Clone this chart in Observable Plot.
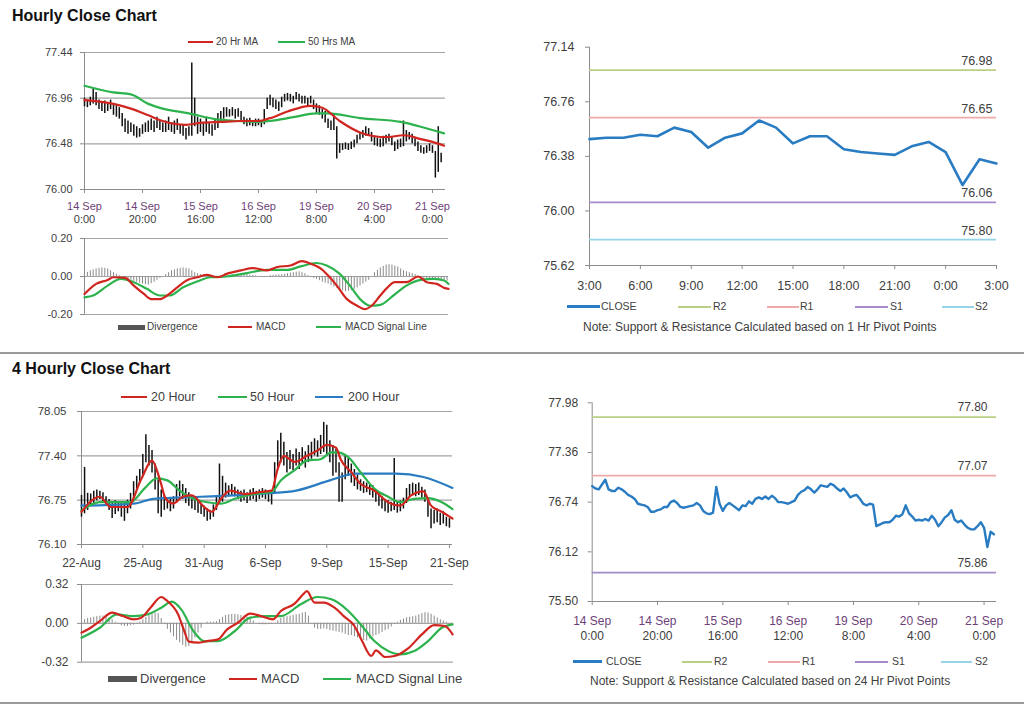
<!DOCTYPE html>
<html><head><meta charset="utf-8">
<script src="https://cdn.jsdelivr.net/npm/d3@7"></script>
<script src="https://cdn.jsdelivr.net/npm/@observablehq/plot@0.6"></script>
<style>
body{margin:0;background:#fff;font-family:"Liberation Sans",Arial,Helvetica,sans-serif;}
#root{position:relative;width:1024px;height:706px;overflow:hidden;background:#fff;}
.lg{position:absolute;white-space:nowrap;color:#404040;}
.title{position:absolute;font-weight:bold;font-size:16px;color:#111;white-space:nowrap;}
</style></head><body><div id="root"></div>
<script>
// ================= DATA =================
// --- Hourly bar chart (top-left): high / low of each hourly bar ---
const h1Lo = [76.87,76.86,76.88,76.90,76.88,76.84,76.82,76.80,76.82,76.84,76.78,76.76,76.74,76.66,76.60,76.58,76.60,76.56,76.54,76.55,
76.58,76.60,76.60,76.62,76.60,76.64,76.62,76.60,76.60,76.62,76.60,76.58,76.62,76.58,76.56,76.52,76.56,76.56,76.66,76.58,
76.60,76.56,76.60,76.58,76.56,76.62,76.64,76.70,76.74,76.76,76.76,76.77,76.74,76.76,76.72,76.68,76.66,76.67,76.66,76.66,
76.67,76.65,76.68,76.84,76.88,76.86,76.84,76.82,76.86,76.92,76.93,76.92,76.90,76.94,76.92,76.90,76.90,76.88,76.90,76.84,
76.80,76.78,76.74,76.70,76.64,76.62,76.62,76.32,76.38,76.41,76.42,76.41,76.42,76.44,76.48,76.52,76.54,76.56,76.56,76.50,
76.46,76.45,76.44,76.45,76.48,76.50,76.46,76.40,76.42,76.44,76.45,76.50,76.52,76.48,76.45,76.40,76.38,76.37,76.38,76.40,
76.38,76.12,76.18,76.28];
const h1Hi = [76.96,76.94,76.97,77.06,77.02,76.94,76.92,76.93,76.90,76.94,76.90,76.88,76.86,76.80,76.74,76.72,76.70,76.68,76.66,76.64,
76.68,76.70,76.72,76.74,76.72,76.76,76.72,76.70,76.72,76.76,76.70,76.72,76.74,76.68,76.68,76.64,76.66,77.33,76.96,76.76,
76.74,76.70,76.76,76.70,76.68,76.74,76.80,76.82,76.86,76.86,76.84,76.86,76.84,76.85,76.82,76.76,76.74,76.75,76.72,76.74,
76.74,76.72,76.84,76.96,76.99,76.96,76.94,76.92,76.97,77.00,77.01,77.00,76.98,77.02,77.00,76.98,76.98,76.96,76.98,76.94,
76.90,76.88,76.84,76.82,76.74,76.72,76.80,76.66,76.48,76.48,76.49,76.48,76.50,76.52,76.57,76.60,76.62,76.66,76.64,76.60,
76.56,76.54,76.53,76.56,76.57,76.58,76.55,76.50,76.52,76.53,76.72,76.62,76.60,76.58,76.54,76.50,76.46,76.44,76.46,76.48,
76.46,76.40,76.66,76.38];
const h1TickIdx = [0,20,40,60,80,100,120];
const h1Dates = ["14 Sep","14 Sep","15 Sep","16 Sep","19 Sep","20 Sep","21 Sep"];
const h1Times = ["0:00","20:00","16:00","12:00","8:00","4:00","0:00"];
const h1YTicks = [76.00,76.48,76.96,77.44];
const h1Ma20X = [0,10,16,22,27,35,40,47,54,60,64,70,78,82,88,95,100,104,110,116,120,124];
const h1Ma20  = [76.94,76.90,76.85,76.78,76.72,76.68,76.70,76.71,76.72,76.72,76.75,76.82,76.88,76.86,76.72,76.60,76.56,76.55,76.57,76.53,76.50,76.46];
const h1Ma50X = [0,10,16,22,27,36,45,53,60,64,72,80,84,95,109,116,124];
const h1Ma50  = [77.09,77.02,77.00,76.90,76.85,76.80,76.74,76.72,76.71,76.72,76.76,76.80,76.80,76.75,76.71,76.66,76.59];

// --- Hourly MACD (top-left lower) ---
const h1MacdTicks = [-0.20,0.00,0.20];
const h1MacdX = [0,4,8,10,14,17,20.5,23,26,28.5,32,35.5,39,42,46,49,54,58,63,66.5,71,75,78,81.5,84,87,90.5,94,96.5,99,102,104.5,107,111,115,118,121.5,124,125.5];
const h1Macd  = [-0.092,-0.039,-0.018,-0.004,-0.007,-0.048,-0.092,-0.119,-0.119,-0.10,-0.057,-0.018,-0.004,0.009,-0.004,0.014,0.032,0.044,0.032,0.05,0.058,0.081,0.067,0.041,0.005,-0.048,-0.119,-0.154,-0.172,-0.154,-0.10,-0.057,-0.03,-0.03,0.0,-0.03,-0.039,-0.06,-0.065];
const h1SigX = [0,3,8,12.5,17,21.5,26,29.5,34,39,43.5,49,56,63,70,74.5,80,83.5,88,91.5,95,98.5,102,106.5,111,116,120.5,124,125.5];
const h1Sig  = [-0.11,-0.10,-0.048,-0.012,-0.03,-0.065,-0.10,-0.10,-0.057,-0.025,-0.004,0.0,0.018,0.035,0.035,0.053,0.071,0.058,0.014,-0.048,-0.119,-0.154,-0.149,-0.10,-0.048,-0.018,-0.012,-0.021,-0.039];
const h1Div = [0.015,0.022,0.03,0.035,0.04,0.043,0.045,0.043,0.04,0.03,0.02,0.012,0.005,-0.003,-0.01,-0.015,-0.02,-0.025,-0.03,-0.035,
-0.04,-0.043,-0.045,-0.038,-0.03,-0.02,-0.01,0.0,0.01,0.02,0.03,0.035,0.04,0.043,0.045,0.043,0.04,0.03,0.02,0.015,
0.01,0.01,0.01,0.008,0.005,0.0,-0.005,-0.003,0.0,0.003,0.005,0.006,0.008,0.009,0.01,0.01,0.01,0.008,0.005,0.003,
0.0,-0.003,-0.005,0.0,0.005,0.006,0.008,0.009,0.01,0.012,0.015,0.018,0.02,0.023,0.025,0.02,0.015,0.005,-0.005,-0.01,
-0.015,-0.022,-0.03,-0.035,-0.04,-0.048,-0.055,-0.062,-0.07,-0.075,-0.08,-0.078,-0.075,-0.068,-0.06,-0.05,-0.04,-0.03,-0.02,0.0,
0.02,0.033,0.045,0.053,0.06,0.062,0.06,0.055,0.05,0.04,0.03,0.025,0.02,0.015,0.01,0.0,-0.01,-0.013,-0.015,-0.018,
-0.02,-0.02,-0.02,-0.022,-0.025,-0.025];

// --- 1 Hr pivot chart (top-right) ---
const pv1HourTicks = [0,3,6,9,12,15,18,21,24];
const pv1HourLabels = ["3:00","6:00","9:00","12:00","15:00","18:00","21:00","0:00","3:00"];
const pv1YTicks = [75.62,76.00,76.38,76.76,77.14];
const pv1Close = [76.50,76.51,76.51,76.53,76.52,76.58,76.55,76.44,76.51,76.54,76.63,76.58,76.47,76.52,76.52,76.43,76.41,76.40,76.39,76.45,76.48,76.41,76.18,76.36,76.33];
const pv1Levels = [76.98,76.65,76.06,75.80];
const pvNames = ["R2","R1","S1","S2"];
const pvColors = ["#b9cf84","#eeaaaa","#a58bc8","#95d4e8"];

// --- 4 hourly bar chart (bottom-left) ---
const h4Lo = [76.50,76.55,76.60,76.66,76.70,76.74,76.76,76.72,76.68,76.60,76.48,76.54,76.58,76.50,76.44,76.55,76.62,76.78,76.90,77.00,
77.10,77.30,77.25,77.15,76.90,76.55,76.50,76.60,76.62,76.58,76.62,76.72,76.80,76.76,76.70,76.66,76.62,76.60,76.56,76.54,
76.50,76.44,76.46,76.50,76.60,76.70,76.72,76.78,76.80,76.82,76.80,76.76,76.72,76.74,76.70,76.74,76.76,76.72,76.76,76.78,
76.76,76.72,76.68,76.85,77.20,77.30,77.25,77.15,77.20,77.18,77.25,77.20,77.28,77.22,77.30,77.35,77.40,77.38,77.42,77.45,
77.40,77.30,77.10,77.15,76.72,76.72,77.05,77.10,77.00,76.95,76.90,76.88,76.85,76.86,76.82,76.78,76.72,76.66,76.62,76.58,
76.56,76.58,76.60,76.56,76.58,76.62,76.70,76.80,76.82,76.80,76.82,76.78,76.72,76.50,76.33,76.40,76.42,76.38,76.40,76.36,
76.34];
const h4Hi = [76.82,77.23,76.85,76.84,76.88,76.90,76.88,76.86,76.80,76.76,76.70,76.74,76.72,76.70,76.72,76.75,76.85,77.02,77.10,77.20,
77.42,77.71,77.55,77.48,77.28,77.05,76.90,76.82,76.78,76.76,76.80,76.98,77.03,76.98,76.92,76.86,76.82,76.78,76.74,76.70,
76.66,76.62,76.60,76.68,76.80,77.28,77.10,77.00,76.96,76.98,76.94,76.90,76.88,76.90,76.86,76.90,76.92,76.88,76.90,76.92,
76.90,76.88,76.86,77.30,77.62,77.73,77.60,77.45,77.48,77.42,77.50,77.45,77.52,77.46,77.55,77.60,77.65,77.62,77.70,77.89,
77.85,77.62,77.55,77.50,77.30,77.15,77.40,77.36,77.28,77.20,77.12,77.05,77.02,77.00,76.98,76.96,76.90,76.86,76.80,76.76,
76.74,76.72,77.36,76.72,76.74,76.78,76.92,76.98,77.00,76.98,77.00,76.94,76.90,76.78,76.62,76.60,76.62,76.56,76.58,76.50,
76.48];
const h4TickIdx = [0,20,40,60,80,100,120];
const h4TickLabels = ["22-Aug","25-Aug","31-Aug","6-Sep","9-Sep","15-Sep","21-Sep"];
const h4YTicks = [76.10,76.75,77.40,78.05];
const h4Ma20X = [0,6,9.5,15,19.5,23,25.5,27.5,30,33,36,40,42.5,45.5,48.5,53,58.5,62,64,66,69.5,73.5,77,80,83,84.5,88,91,95.5,100,104,107.5,111.5,114,117.5,121];
const h4Ma20  = [76.58,76.80,76.65,76.65,77.06,77.33,77.06,76.77,76.70,76.80,76.82,76.65,76.58,76.77,76.89,76.84,76.87,76.89,77.21,77.40,77.31,77.40,77.48,77.56,77.52,77.35,77.16,76.99,76.89,76.72,76.67,76.82,76.88,76.67,76.58,76.48];
const h4Ma50X = [0,6,12,16,20.5,24.5,28,32,36.5,41,45.5,50,56.5,62,65,69.5,73.5,78,81.5,83.5,87,91,95.5,100,104,108.5,113,117.5,121];
const h4Ma50  = [76.60,76.72,76.72,76.72,76.92,77.07,77.04,76.89,76.77,76.72,76.70,76.77,76.84,76.87,77.04,77.19,77.33,77.35,77.45,77.45,77.38,77.16,76.92,76.80,76.72,76.77,76.78,76.72,76.62];
const h4Ma200X = [0,17,23.5,39,49.5,60.5,70,81,89.5,102.5,111.5,121];
const h4Ma200  = [76.67,76.70,76.77,76.80,76.82,76.85,76.89,77.04,77.14,77.14,77.09,76.93];

// --- 4 hourly MACD (bottom-left lower) ---
const h4MacdTicks = [-0.32,0.00,0.32];
const h4MacdX = [0,3,6,10,13.5,17,19.5,22.5,26,28,31.5,33.5,35,38,41,44.5,47.5,51,55,58.5,62.5,65,69.5,72.5,73.5,76,79,82.5,85.5,89,91.5,94.5,96,99,102,106.5,111,115,118.5,121];
const h4Macd  = [-0.077,-0.036,0.019,0.088,0.060,0.033,0.047,0.129,0.217,0.184,0.074,-0.063,-0.151,-0.159,-0.146,-0.132,-0.049,0.005,0.080,0.060,0.033,0.102,0.162,0.245,0.266,0.170,0.170,0.129,0.060,-0.022,-0.146,-0.269,-0.222,-0.277,-0.269,-0.206,-0.091,-0.014,-0.022,-0.091];
const h4SigX = [0,6,11.5,17,21.5,26,29.5,32.5,36.5,40,44.5,50,55,60.5,65,71.5,77,81.5,87,91,95.5,100,104,108.5,113,117.5,121];
const h4Sig  = [-0.118,-0.036,0.074,0.060,0.074,0.129,0.179,0.115,-0.063,-0.146,-0.146,-0.063,0.047,0.060,0.060,0.157,0.217,0.198,0.102,-0.008,-0.146,-0.228,-0.255,-0.228,-0.146,-0.036,-0.008];
const h4Div = [0.02,0.03,0.04,0.045,0.05,0.055,0.06,0.06,0.055,0.045,0.03,0.01,-0.01,-0.02,-0.025,-0.025,-0.02,-0.015,-0.005,0.01,
0.03,0.05,0.065,0.075,0.085,0.08,0.04,-0.01,-0.05,-0.08,-0.11,-0.14,-0.16,-0.18,-0.195,-0.19,-0.16,-0.12,-0.08,-0.04,
0.0,0.01,0.01,0.01,0.015,0.03,0.05,0.065,0.07,0.074,0.074,0.07,0.065,0.06,0.05,0.04,0.02,0.0,-0.008,-0.012,
-0.012,-0.01,-0.005,0.0,0.02,0.04,0.05,0.055,0.06,0.065,0.07,0.075,0.085,0.09,0.06,0.0,-0.04,-0.05,-0.05,-0.045,
-0.05,-0.06,-0.065,-0.07,-0.075,-0.08,-0.09,-0.1,-0.1,-0.11,-0.12,-0.13,-0.14,-0.146,-0.13,-0.11,-0.1,-0.09,-0.075,-0.06,
-0.05,-0.03,-0.01,0.01,0.025,0.035,0.045,0.05,0.055,0.06,0.07,0.08,0.088,0.085,0.075,0.06,0.045,0.03,0.02,0.01,
0.0,-0.005];

// --- 24 Hr pivot chart (bottom-right): hourly closes ---
const pv24Close = [76.94,76.91,76.90,76.96,77.02,76.90,76.88,76.88,76.92,76.90,76.87,76.83,76.81,76.78,76.72,76.71,76.70,76.68,76.62,76.62,
76.64,76.65,76.68,76.68,76.74,76.76,76.73,76.68,76.67,76.68,76.69,76.70,76.73,76.70,76.63,76.60,76.59,76.61,76.93,76.72,
76.63,76.70,76.73,76.70,76.67,76.64,76.70,76.69,76.75,76.72,76.78,76.80,76.78,76.81,76.78,76.82,76.79,76.74,76.74,76.73,
76.72,76.74,76.76,76.83,76.87,76.89,76.93,76.90,76.86,76.90,76.95,76.94,76.93,76.97,76.95,76.91,76.88,76.91,76.86,76.80,
76.82,76.83,76.78,76.72,76.70,76.72,76.71,76.44,76.46,76.48,76.49,76.49,76.52,76.57,76.56,76.59,76.70,76.60,76.56,76.51,
76.52,76.51,76.53,76.51,76.57,76.52,76.44,76.49,76.55,76.58,76.64,76.52,76.49,76.51,76.46,76.42,76.40,76.40,76.44,76.49,
76.42,76.18,76.37,76.34];
const pv24Levels = [77.80,77.07,75.86];
const pv24YTicks = [75.50,76.12,76.74,77.36,77.98];

// ================= RENDER =================
const FONT = '"Liberation Sans", Arial, Helvetica, sans-serif';
const GRID = "#a3a3a3", AXIS = "#8c8c8c", TXT = "#404040", DATEC = "#6e3f78";
const RED = "#d0261f", GREEN = "#2db34d", BLUE = "#2a7cc2";
const root = document.getElementById("root");
const style = {fontFamily: FONT, background: "transparent", overflow: "visible", color: TXT};

function put(node, left, top) {
  const w = document.createElement("div");
  w.style.cssText = `position:absolute;left:${left}px;top:${top}px;`;
  w.appendChild(node);
  root.appendChild(w);
}
function label(str, cls, left, cy, size, extra) {
  const d = document.createElement("div");
  d.className = cls;
  d.textContent = str;
  d.style.left = left + "px";
  d.style.top = (cy - size * 0.6) + "px";
  d.style.fontSize = size + "px";
  d.style.lineHeight = (size * 1.2) + "px";
  if (extra) d.style.cssText += extra;
  root.appendChild(d);
  return d;
}
function box(left, top, w, h, color) {
  const d = document.createElement("div");
  d.style.cssText = `position:absolute;left:${left}px;top:${top}px;width:${w}px;height:${h}px;background:${color};`;
  root.appendChild(d);
}
function legend(items, cy, size) {
  for (const it of items) {
    const h = it.h || 2;
    box(it.x, cy - h / 2, it.w, h, it.color);
    label(it.label, "lg", it.tx, cy, size);
  }
}
const pts = (xs, ys) => xs.map((x, i) => ({x, y: ys[i]}));
const fmt2 = d => d.toFixed(2);
const lineOpt = (c, w) => ({x: "x", y: "y", stroke: c, strokeWidth: w, curve: "monotone-x"});

// Titles & separators
label("Hourly Close Chart", "title", 12, 16, 16);
label("4 Hourly Close Chart", "title", 12, 369, 16);
box(0, 352, 1024, 1.5, "#9a9a9a");
box(0, 702, 1024, 1.5, "#9a9a9a");

// ---- P1: hourly bars ----
const idx1 = h1Hi.map((_, i) => i);
put(Plot.plot({
  width: 460, height: 200, marginLeft: 84, marginRight: 15, marginTop: 12, marginBottom: 51,
  style,
  x: {domain: [0, 124.5]},
  y: {domain: [76.0, 77.44]},
  marks: [
    Plot.gridY(h1YTicks, {stroke: GRID, strokeOpacity: 1, strokeWidth: 1.2}),
    Plot.ruleX([0], {stroke: AXIS}),
    Plot.ruleY([76.0], {stroke: AXIS, strokeWidth: 1.2}),
    Plot.axisY(h1YTicks, {tickSize: 4, tickPadding: 8, tickFormat: fmt2, stroke: AXIS, fill: TXT, fontSize: 11, label: null}),
    Plot.axisX(h1TickIdx, {tickSize: 4, tickPadding: 9, tickFormat: d => h1Dates[h1TickIdx.indexOf(d)], stroke: AXIS, fill: DATEC, fontSize: 11, label: null}),
    Plot.axisX(h1TickIdx, {tickSize: 0, tickPadding: 26, tickFormat: d => h1Times[h1TickIdx.indexOf(d)], fill: TXT, fontSize: 11, label: null}),
    Plot.ruleX(idx1, {x: i => i, y1: i => h1Lo[i], y2: i => h1Hi[i], stroke: "#111", strokeWidth: 1.5}),
    Plot.line(pts(h1Ma50X, h1Ma50), lineOpt(GREEN, 2.2)),
    Plot.line(pts(h1Ma20X, h1Ma20), lineOpt(RED, 2.2))
  ]
}), 0, 40);
legend([
  {x: 188, w: 25, color: RED, label: "20 Hr MA", tx: 216},
  {x: 278, w: 27, color: GREEN, label: "50 Hrs MA", tx: 308}
], 42, 10);

// ---- P2: hourly MACD ----
put(Plot.plot({
  width: 460, height: 90, marginLeft: 84, marginRight: 12, marginTop: 8, marginBottom: 6,
  style,
  x: {domain: [0, 125.5], axis: null},
  y: {domain: [-0.2, 0.2]},
  marks: [
    Plot.gridY(h1MacdTicks, {stroke: GRID, strokeOpacity: 1, strokeWidth: 1.2}),
    Plot.ruleX([0], {stroke: AXIS}),
    Plot.axisY(h1MacdTicks, {tickSize: 4, tickPadding: 8, tickFormat: fmt2, stroke: AXIS, fill: TXT, fontSize: 11, label: null}),
    Plot.ruleX(h1Div.map((_, i) => i), {x: i => i, y1: 0, y2: i => h1Div[i], stroke: "#8a8a8a", strokeWidth: 1}),
    Plot.line(pts(h1SigX, h1Sig), lineOpt(GREEN, 2.2)),
    Plot.line(pts(h1MacdX, h1Macd), lineOpt(RED, 2.2))
  ]
}), 0, 230);
legend([
  {x: 118, w: 27, h: 5, color: "#555", label: "Divergence", tx: 147},
  {x: 228, w: 24, color: RED, label: "MACD", tx: 256},
  {x: 316, w: 25, color: GREEN, label: "MACD Signal Line", tx: 345}
], 327, 10);

// ---- P3: 1 Hr pivot ----
put(Plot.plot({
  width: 490, height: 275, marginLeft: 69, marginRight: 14, marginTop: 16.7, marginBottom: 40,
  style,
  x: {domain: [0, 24]},
  y: {domain: [75.62, 77.14]},
  marks: [
    Plot.ruleX([0], {stroke: AXIS}),
    Plot.ruleY([75.62], {stroke: AXIS}),
    Plot.axisY(pv1YTicks, {tickSize: 4, tickPadding: 11, tickFormat: fmt2, stroke: AXIS, fill: TXT, fontSize: 12.5, label: null}),
    Plot.axisX(pv1HourTicks, {tickSize: 4, tickPadding: 12, tickFormat: d => pv1HourLabels[pv1HourTicks.indexOf(d)], stroke: AXIS, fill: TXT, fontSize: 12.5, label: null}),
    ...pv1Levels.map((v, i) => Plot.ruleY([v], {stroke: pvColors[i], strokeWidth: 1.7})),
    Plot.text(pv1Levels, {x: () => 24, y: d => d, text: fmt2, textAnchor: "end", dx: -4, dy: -9, fill: TXT, fontSize: 12.5}),
    Plot.line(pv1Close.map((_, i) => i), {x: i => i, y: i => pv1Close[i], stroke: BLUE, strokeWidth: 2.6})
  ]
}), 520, 30);
legend([
  {x: 567, w: 33, h: 2.5, color: BLUE, label: "CLOSE", tx: 601},
  {x: 678, w: 33, color: pvColors[0], label: pvNames[0], tx: 713},
  {x: 767, w: 32, color: pvColors[1], label: pvNames[1], tx: 800},
  {x: 855, w: 33, color: pvColors[2], label: pvNames[2], tx: 890},
  {x: 942, w: 32, color: pvColors[3], label: pvNames[3], tx: 975}
], 306.5, 10.5);
label("Note: Support & Resistance Calculated based on 1 Hr Pivot Points", "lg", 583, 327.5, 12);

// ---- P4: 4 hourly bars ----
const idx4 = h4Hi.map((_, i) => i);
put(Plot.plot({
  width: 470, height: 175, marginLeft: 81, marginRight: 18, marginTop: 11, marginBottom: 31,
  style,
  x: {domain: [0, 121]},
  y: {domain: [76.10, 78.05]},
  marks: [
    Plot.gridY(h4YTicks, {stroke: GRID, strokeOpacity: 1, strokeWidth: 1.2}),
    Plot.ruleX([0], {stroke: AXIS}),
    Plot.ruleY([76.10], {stroke: AXIS, strokeWidth: 1.2}),
    Plot.axisY(h4YTicks, {tickSize: 4, tickPadding: 11, tickFormat: fmt2, stroke: AXIS, fill: TXT, fontSize: 11.5, label: null}),
    Plot.axisX(h4TickIdx, {tickSize: 4, tickPadding: 10, tickFormat: d => h4TickLabels[h4TickIdx.indexOf(d)], stroke: AXIS, fill: TXT, fontSize: 12, label: null}),
    Plot.ruleX(idx4, {x: i => i, y1: i => h4Lo[i], y2: i => h4Hi[i], stroke: "#111", strokeWidth: 1.5}),
    Plot.line(pts(h4Ma200X, h4Ma200), lineOpt(BLUE, 2.2)),
    Plot.line(pts(h4Ma50X, h4Ma50), lineOpt(GREEN, 2.2)),
    Plot.line(pts(h4Ma20X, h4Ma20), lineOpt(RED, 2.2))
  ]
}), 0, 400);
legend([
  {x: 121, w: 26, color: RED, label: "20 Hour", tx: 151},
  {x: 218, w: 29, color: GREEN, label: "50 Hour", tx: 250},
  {x: 315, w: 28, color: BLUE, label: "200 Hour", tx: 348}
], 397, 12.5);

// ---- P5: 4 hourly MACD ----
put(Plot.plot({
  width: 470, height: 95, marginLeft: 81, marginRight: 17, marginTop: 9, marginBottom: 8.3,
  style,
  x: {domain: [0, 121.3], axis: null},
  y: {domain: [-0.32, 0.32]},
  marks: [
    Plot.gridY(h4MacdTicks, {stroke: GRID, strokeOpacity: 1, strokeWidth: 1.2}),
    Plot.ruleX([0], {stroke: AXIS}),
    Plot.axisY(h4MacdTicks, {tickSize: 4, tickPadding: 9, tickFormat: fmt2, stroke: AXIS, fill: TXT, fontSize: 12, label: null}),
    Plot.ruleX(h4Div.map((_, i) => i), {x: i => i, y1: 0, y2: i => h4Div[i], stroke: "#8a8a8a", strokeWidth: 1}),
    Plot.line(pts(h4SigX, h4Sig), lineOpt(GREEN, 2.2)),
    Plot.line(pts(h4MacdX, h4Macd), lineOpt(RED, 2.2))
  ]
}), 0, 575);
legend([
  {x: 108, w: 29, h: 6, color: "#555", label: "Divergence", tx: 140},
  {x: 229, w: 28, color: RED, label: "MACD", tx: 261},
  {x: 323, w: 28, color: GREEN, label: "MACD Signal Line", tx: 356}
], 679, 13);

// ---- P6: 24 Hr pivot ----
put(Plot.plot({
  width: 490, height: 260, marginLeft: 71.7, marginRight: 14, marginTop: 12.3, marginBottom: 49,
  style,
  x: {domain: [0, 123.8]},
  y: {domain: [75.50, 77.98]},
  marks: [
    Plot.ruleX([0], {stroke: AXIS}),
    Plot.ruleY([75.50], {stroke: AXIS}),
    Plot.axisY(pv24YTicks, {tickSize: 4, tickPadding: 10, tickFormat: fmt2, stroke: AXIS, fill: TXT, fontSize: 12, label: null}),
    Plot.axisX(h1TickIdx, {tickSize: 4, tickPadding: 11, tickFormat: d => h1Dates[h1TickIdx.indexOf(d)], stroke: AXIS, fill: DATEC, fontSize: 12, label: null}),
    Plot.axisX(h1TickIdx, {tickSize: 0, tickPadding: 29.5, tickFormat: d => h1Times[h1TickIdx.indexOf(d)], fill: TXT, fontSize: 12, label: null}),
    ...pv24Levels.map((v, i) => Plot.ruleY([v], {stroke: pvColors[i], strokeWidth: 1.7})),
    Plot.text(pv24Levels, {x: () => 123.8, y: d => d, text: fmt2, textAnchor: "end", dx: -9, dy: -10, fill: TXT, fontSize: 12}),
    Plot.line(pv24Close.map((_, i) => i), {x: i => i, y: i => pv24Close[i], stroke: BLUE, strokeWidth: 2.4})
  ]
}), 520, 390);
legend([
  {x: 573, w: 29, h: 2.5, color: BLUE, label: "CLOSE", tx: 606},
  {x: 682, w: 30, color: pvColors[0], label: pvNames[0], tx: 714},
  {x: 768, w: 32, color: pvColors[1], label: pvNames[1], tx: 802},
  {x: 855, w: 33, color: pvColors[2], label: pvNames[2], tx: 892},
  {x: 941, w: 31, color: pvColors[3], label: pvNames[3], tx: 975}
], 661.5, 10.5);
label("Note: Support & Resistance Calculated based on 24 Hr Pivot Points", "lg", 590, 681, 12);
</script></body></html>
